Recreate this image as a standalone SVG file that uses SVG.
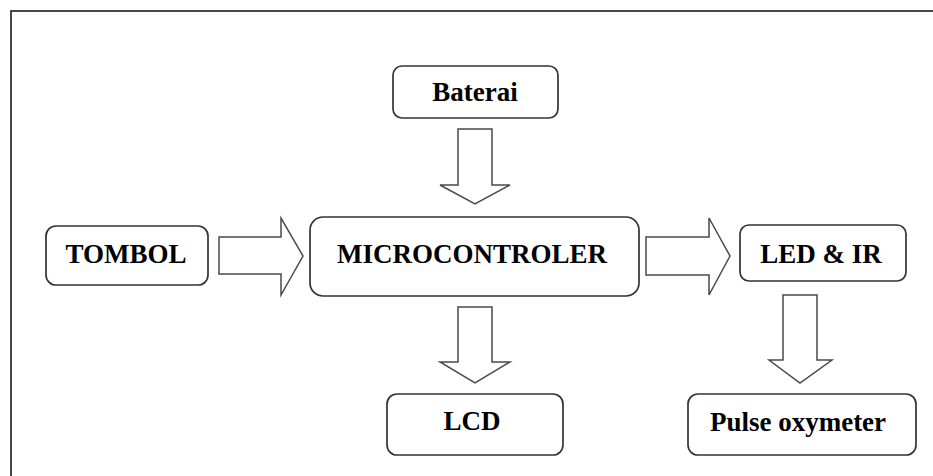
<svg xmlns="http://www.w3.org/2000/svg" width="933" height="476" viewBox="0 0 933 476">
  <style>
    .box { fill: #ffffff; stroke: #333333; stroke-width: 1.7; }
    .arrow { fill: #ffffff; stroke: #4a4a4a; stroke-width: 1.5; stroke-linejoin: miter; }
    .label { font-family: "Liberation Serif", "Times New Roman", serif; font-weight: bold; font-size: 27px; fill: #000000; text-anchor: middle; }
  </style>
  <rect x="0" y="0" width="933" height="476" fill="#ffffff"/>
  <rect x="11" y="11" width="940" height="480" fill="none" stroke="#333333" stroke-width="1.8"/>

  <g id="connectors">
    <polygon class="arrow" points="458,129 492,129 492,185 510,185 475,204 440,185 458,185"/>
    <polygon class="arrow" points="219,237 281,237 281,218 303,256 281,295 281,274 219,274"/>
    <polygon class="arrow" points="646,237 709,237 709,218 730,256 709,295 709,275 646,275"/>
    <polygon class="arrow" points="458,307 492,307 492,362 510,362 475,383 440,362 458,362"/>
    <polygon class="arrow" points="783,295 817,295 817,360 832,360 800,383 769,360 783,360"/>
  </g>

  <g id="baterai">
    <rect class="box" x="393" y="66" width="165" height="52" rx="9"/>
    <text class="label" x="475" y="101">Baterai</text>
  </g>
  <g id="tombol">
    <rect class="box" x="46" y="226" width="162" height="59" rx="10"/>
    <text class="label" x="126" y="263">TOMBOL</text>
  </g>
  <g id="microcontroler">
    <rect class="box" x="310" y="217" width="329" height="79" rx="13"/>
    <text class="label" x="472" y="263">MICROCONTROLER</text>
  </g>
  <g id="led-ir">
    <rect class="box" x="740" y="225" width="166" height="56" rx="9"/>
    <text class="label" x="821" y="263">LED &amp; IR</text>
  </g>
  <g id="lcd">
    <rect class="box" x="387" y="394" width="176" height="61" rx="10"/>
    <text class="label" x="472" y="430">LCD</text>
  </g>
  <g id="pulse-oxymeter">
    <rect class="box" x="688" y="394" width="228" height="61" rx="10"/>
    <text class="label" x="798" y="431">Pulse oxymeter</text>
  </g>
</svg>
